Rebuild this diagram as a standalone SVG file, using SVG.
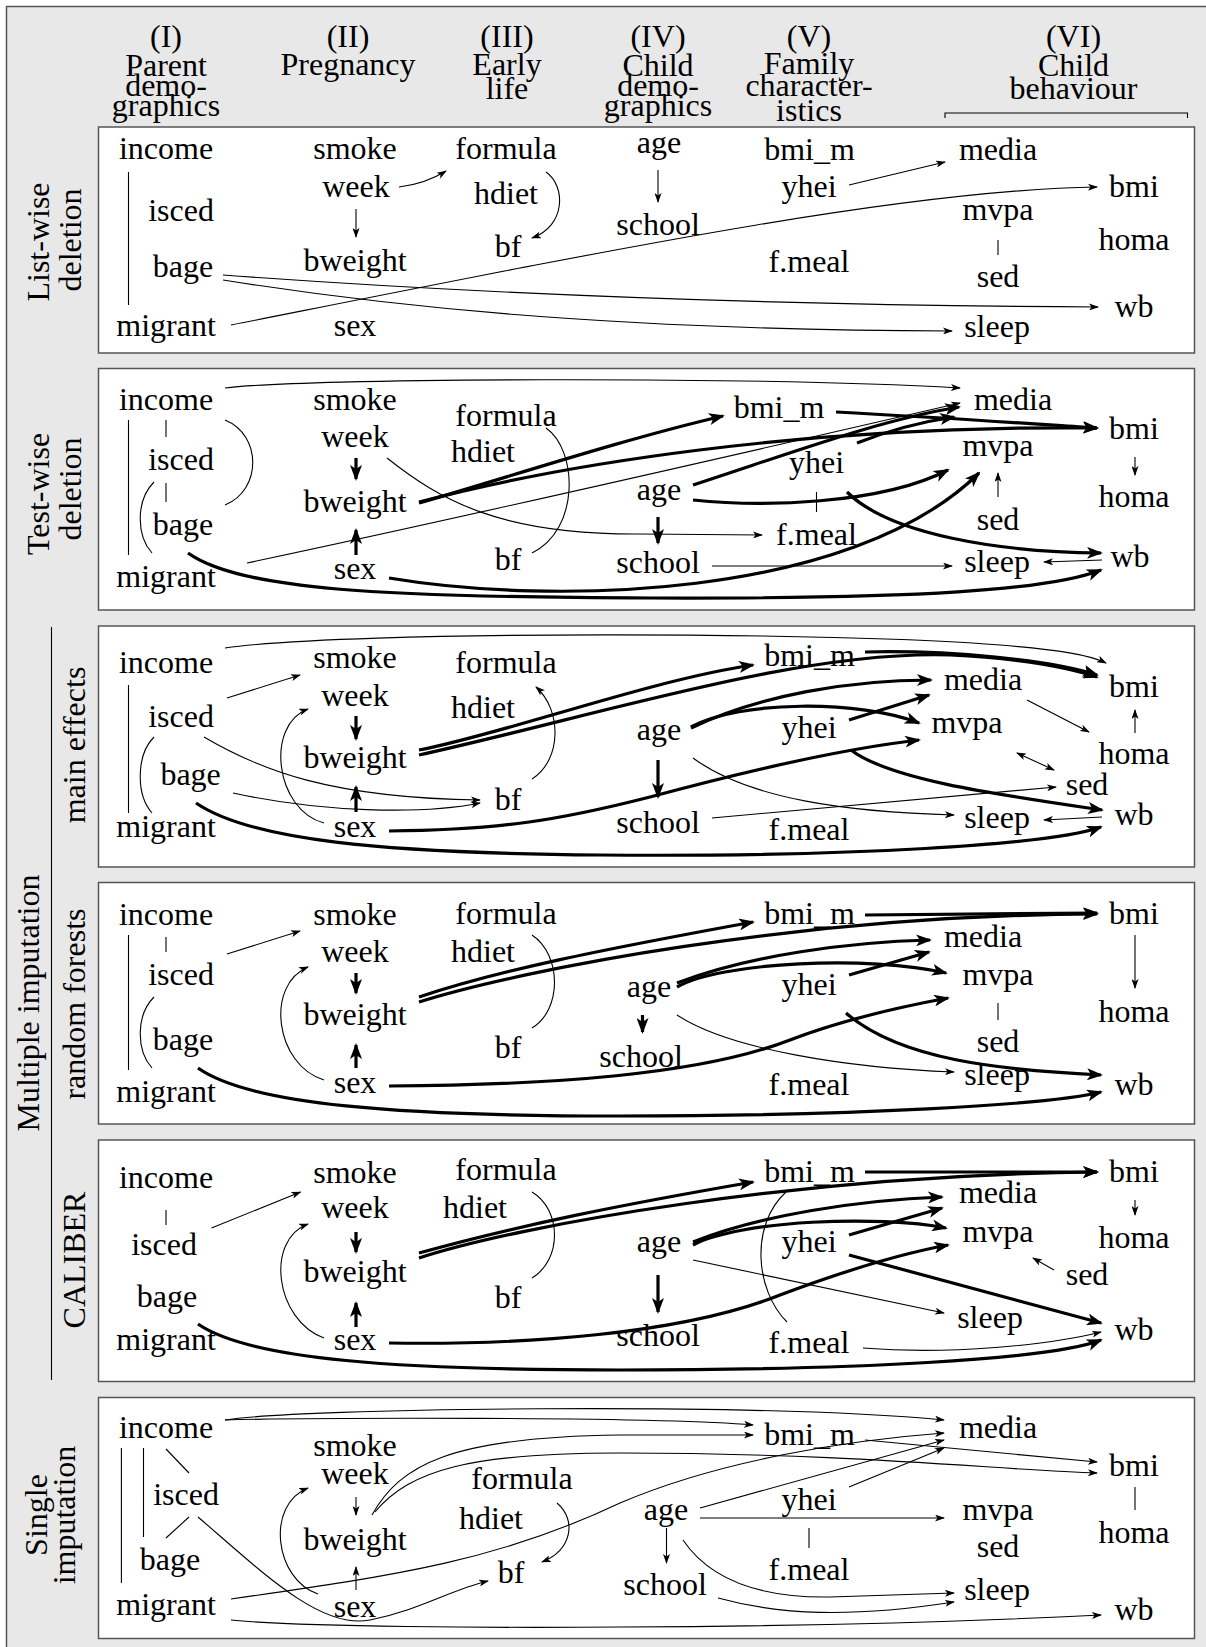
<svg xmlns="http://www.w3.org/2000/svg" width="1206" height="1647" viewBox="0 0 1206 1647" font-family="'Liberation Serif', 'DejaVu Serif', serif">
<style>
text{font-family:"Liberation Serif","DejaVu Serif",serif;font-size:32px;fill:#000;text-anchor:middle}
.panel{fill:#fff;stroke:#555;stroke-width:1.5}
.ln{fill:none;stroke:#000;stroke-width:1.1}
.a{fill:none;stroke:#000;stroke-width:1.1;marker-end:url(#ah)}
.aa{fill:none;stroke:#000;stroke-width:1.1;marker-end:url(#ah);marker-start:url(#ah)}
.b{fill:none;stroke:#000;stroke-width:3.2;marker-end:url(#AH)}
</style>
<defs>
<marker id="ah" viewBox="0 0 10 7" refX="9" refY="3.5" markerWidth="10" markerHeight="7" markerUnits="userSpaceOnUse" orient="auto-start-reverse"><path d="M0,0 L10,3.5 L0,7 L2.5,3.5 z" fill="#000"/></marker>
<marker id="AH" viewBox="0 0 16 12" refX="14" refY="6" markerWidth="16" markerHeight="12" markerUnits="userSpaceOnUse" orient="auto"><path d="M0,0 L16,6 L0,12 L4,6 z" fill="#000"/></marker>
</defs>
<rect x="6.5" y="6.5" width="1210" height="1650" fill="#e8e8e8" stroke="#555" stroke-width="1.5"/>
<g id="panels">
<rect class="panel" x="98.5" y="127" width="1096" height="226"/>
<rect class="panel" x="98.5" y="368.5" width="1096" height="241.5"/>
<rect class="panel" x="98.5" y="626" width="1096" height="241"/>
<rect class="panel" x="98.5" y="882.5" width="1096" height="241.5"/>
<rect class="panel" x="98.5" y="1140" width="1096" height="241.5"/>
<rect class="panel" x="98.5" y="1397.5" width="1096" height="241"/>
</g>
<g id="header">
<text x="166" y="47">(I)</text><text x="166" y="76">Parent</text><text x="166" y="96">demo-</text><text x="166" y="116">graphics</text>
<text x="348" y="47">(II)</text><text x="348" y="75">Pregnancy</text>
<text x="507" y="47">(III)</text><text x="507" y="75">Early</text><text x="507" y="99">life</text>
<text x="658" y="47">(IV)</text><text x="658" y="76">Child</text><text x="658" y="96">demo-</text><text x="658" y="116">graphics</text>
<text x="809" y="47">(V)</text><text x="809" y="74">Family</text><text x="809" y="96">character-</text><text x="809" y="121">istics</text>
<text x="1073.5" y="47">(VI)</text><text x="1073.5" y="76">Child</text><text x="1073.5" y="99">behaviour</text>
<path class="ln" d="M945,118 V113 H1187.5 V118"/>
</g>
<g id="row-labels">
<text transform="translate(49,242) rotate(-90)">List-wise</text>
<text transform="translate(81,240) rotate(-90)">deletion</text>
<text transform="translate(49,494) rotate(-90)">Test-wise</text>
<text transform="translate(81,489) rotate(-90)">deletion</text>
<text transform="translate(39,1003) rotate(-90)">Multiple imputation</text>
<path class="ln" d="M51.5,627 V1380"/>
<text transform="translate(85,745) rotate(-90)">main effects</text>
<text transform="translate(85,1004) rotate(-90)">random forests</text>
<text transform="translate(85,1260) rotate(-90)">CALIBER</text>
<text transform="translate(47,1515) rotate(-90)">Single</text>
<text transform="translate(75,1515) rotate(-90)">imputation</text>
</g>
<g id="panel1-nodes">
<g id="p1-income"><text x="166" y="159">income</text></g>
<g id="p1-isced"><text x="181" y="221">isced</text></g>
<g id="p1-bage"><text x="183" y="277">bage</text></g>
<g id="p1-migrant"><text x="166" y="336">migrant</text></g>
<g id="p1-smoke"><text x="355" y="159">smoke</text></g>
<g id="p1-week"><text x="356" y="197">week</text></g>
<g id="p1-bweight"><text x="355" y="271">bweight</text></g>
<g id="p1-sex"><text x="355" y="336">sex</text></g>
<g id="p1-formula"><text x="506" y="159">formula</text></g>
<g id="p1-hdiet"><text x="506" y="204">hdiet</text></g>
<g id="p1-bf"><text x="508" y="257">bf</text></g>
<g id="p1-age"><text x="659" y="153">age</text></g>
<g id="p1-school"><text x="658" y="235">school</text></g>
<g id="p1-bmi_m"><text x="809.5" y="160">bmi_m</text></g>
<g id="p1-yhei"><text x="809" y="197">yhei</text></g>
<g id="p1-fmeal"><text x="809" y="272">f.meal</text></g>
<g id="p1-media"><text x="998" y="160">media</text></g>
<g id="p1-mvpa"><text x="998" y="220">mvpa</text></g>
<g id="p1-sed"><text x="998" y="287">sed</text></g>
<g id="p1-sleep"><text x="997" y="337">sleep</text></g>
<g id="p1-bmi"><text x="1134" y="197">bmi</text></g>
<g id="p1-homa"><text x="1134" y="250">homa</text></g>
<g id="p1-wb"><text x="1134" y="317">wb</text></g>
</g>
<g id="panel2-nodes">
<g id="p2-income"><text x="166" y="410">income</text></g>
<g id="p2-isced"><text x="181" y="470">isced</text></g>
<g id="p2-bage"><text x="183" y="535">bage</text></g>
<g id="p2-migrant"><text x="166" y="587">migrant</text></g>
<g id="p2-smoke"><text x="355" y="410">smoke</text></g>
<g id="p2-week"><text x="355" y="447">week</text></g>
<g id="p2-bweight"><text x="355" y="512">bweight</text></g>
<g id="p2-sex"><text x="355" y="579">sex</text></g>
<g id="p2-formula"><text x="506" y="426">formula</text></g>
<g id="p2-hdiet"><text x="483" y="462">hdiet</text></g>
<g id="p2-bf"><text x="508" y="570">bf</text></g>
<g id="p2-age"><text x="659" y="500">age</text></g>
<g id="p2-school"><text x="658" y="573">school</text></g>
<g id="p2-bmi_m"><text x="779" y="418">bmi_m</text></g>
<g id="p2-yhei"><text x="816.5" y="473">yhei</text></g>
<g id="p2-fmeal"><text x="816.5" y="545">f.meal</text></g>
<g id="p2-media"><text x="1013" y="410">media</text></g>
<g id="p2-mvpa"><text x="998" y="456">mvpa</text></g>
<g id="p2-sed"><text x="998" y="530">sed</text></g>
<g id="p2-sleep"><text x="997" y="572">sleep</text></g>
<g id="p2-bmi"><text x="1134" y="439">bmi</text></g>
<g id="p2-homa"><text x="1134" y="507">homa</text></g>
<g id="p2-wb"><text x="1130" y="567">wb</text></g>
</g>
<g id="panel3-nodes">
<g id="p3-income"><text x="166" y="673">income</text></g>
<g id="p3-isced"><text x="181" y="727">isced</text></g>
<g id="p3-bage"><text x="190.6" y="785">bage</text></g>
<g id="p3-migrant"><text x="166" y="837">migrant</text></g>
<g id="p3-smoke"><text x="355" y="668">smoke</text></g>
<g id="p3-week"><text x="355" y="706">week</text></g>
<g id="p3-bweight"><text x="355" y="768">bweight</text></g>
<g id="p3-sex"><text x="355" y="837">sex</text></g>
<g id="p3-formula"><text x="506" y="673">formula</text></g>
<g id="p3-hdiet"><text x="483" y="718">hdiet</text></g>
<g id="p3-bf"><text x="508" y="810">bf</text></g>
<g id="p3-age"><text x="659" y="740">age</text></g>
<g id="p3-school"><text x="658" y="833">school</text></g>
<g id="p3-bmi_m"><text x="809.5" y="666">bmi_m</text></g>
<g id="p3-yhei"><text x="809" y="738">yhei</text></g>
<g id="p3-fmeal"><text x="809" y="840">f.meal</text></g>
<g id="p3-media"><text x="983" y="690">media</text></g>
<g id="p3-mvpa"><text x="967" y="733">mvpa</text></g>
<g id="p3-sed"><text x="1087" y="795">sed</text></g>
<g id="p3-sleep"><text x="997" y="828">sleep</text></g>
<g id="p3-bmi"><text x="1134" y="697">bmi</text></g>
<g id="p3-homa"><text x="1134" y="764">homa</text></g>
<g id="p3-wb"><text x="1134" y="825">wb</text></g>
</g>
<g id="panel4-nodes">
<g id="p4-income"><text x="166" y="925">income</text></g>
<g id="p4-isced"><text x="181" y="985">isced</text></g>
<g id="p4-bage"><text x="183" y="1050">bage</text></g>
<g id="p4-migrant"><text x="166" y="1102">migrant</text></g>
<g id="p4-smoke"><text x="355" y="925">smoke</text></g>
<g id="p4-week"><text x="355" y="962">week</text></g>
<g id="p4-bweight"><text x="355" y="1025">bweight</text></g>
<g id="p4-sex"><text x="355" y="1093">sex</text></g>
<g id="p4-formula"><text x="506" y="924">formula</text></g>
<g id="p4-hdiet"><text x="483" y="962">hdiet</text></g>
<g id="p4-bf"><text x="508" y="1058">bf</text></g>
<g id="p4-age"><text x="649" y="997">age</text></g>
<g id="p4-school"><text x="641" y="1067">school</text></g>
<g id="p4-bmi_m"><text x="809.5" y="924">bmi_m</text></g>
<g id="p4-yhei"><text x="809" y="995">yhei</text></g>
<g id="p4-fmeal"><text x="809" y="1095">f.meal</text></g>
<g id="p4-media"><text x="983" y="947">media</text></g>
<g id="p4-mvpa"><text x="998" y="985">mvpa</text></g>
<g id="p4-sed"><text x="998" y="1052">sed</text></g>
<g id="p4-sleep"><text x="997" y="1085">sleep</text></g>
<g id="p4-bmi"><text x="1134" y="924">bmi</text></g>
<g id="p4-homa"><text x="1134" y="1022">homa</text></g>
<g id="p4-wb"><text x="1134" y="1095">wb</text></g>
</g>
<g id="panel5-nodes">
<g id="p5-income"><text x="166" y="1188">income</text></g>
<g id="p5-isced"><text x="164" y="1255">isced</text></g>
<g id="p5-bage"><text x="167" y="1307">bage</text></g>
<g id="p5-migrant"><text x="166" y="1350">migrant</text></g>
<g id="p5-smoke"><text x="355" y="1183">smoke</text></g>
<g id="p5-week"><text x="355" y="1218">week</text></g>
<g id="p5-bweight"><text x="355" y="1282">bweight</text></g>
<g id="p5-sex"><text x="355" y="1350">sex</text></g>
<g id="p5-formula"><text x="506" y="1180">formula</text></g>
<g id="p5-hdiet"><text x="475" y="1218">hdiet</text></g>
<g id="p5-bf"><text x="508" y="1308">bf</text></g>
<g id="p5-age"><text x="659" y="1252">age</text></g>
<g id="p5-school"><text x="658" y="1346">school</text></g>
<g id="p5-bmi_m"><text x="809.5" y="1182">bmi_m</text></g>
<g id="p5-yhei"><text x="809" y="1252">yhei</text></g>
<g id="p5-fmeal"><text x="809" y="1353">f.meal</text></g>
<g id="p5-media"><text x="998" y="1203">media</text></g>
<g id="p5-mvpa"><text x="998" y="1242">mvpa</text></g>
<g id="p5-sed"><text x="1087" y="1285">sed</text></g>
<g id="p5-sleep"><text x="990" y="1328">sleep</text></g>
<g id="p5-bmi"><text x="1134" y="1182">bmi</text></g>
<g id="p5-homa"><text x="1134" y="1248">homa</text></g>
<g id="p5-wb"><text x="1134" y="1340">wb</text></g>
</g>
<g id="panel6-nodes">
<g id="p6-income"><text x="166" y="1438">income</text></g>
<g id="p6-isced"><text x="186" y="1505">isced</text></g>
<g id="p6-bage"><text x="170" y="1570">bage</text></g>
<g id="p6-migrant"><text x="166" y="1615">migrant</text></g>
<g id="p6-smoke"><text x="355" y="1456">smoke</text></g>
<g id="p6-week"><text x="355" y="1484">week</text></g>
<g id="p6-bweight"><text x="355" y="1550">bweight</text></g>
<g id="p6-sex"><text x="355" y="1617">sex</text></g>
<g id="p6-formula"><text x="522" y="1489">formula</text></g>
<g id="p6-hdiet"><text x="491" y="1529">hdiet</text></g>
<g id="p6-bf"><text x="511" y="1583">bf</text></g>
<g id="p6-age"><text x="666" y="1520">age</text></g>
<g id="p6-school"><text x="665" y="1595">school</text></g>
<g id="p6-bmi_m"><text x="809.5" y="1445">bmi_m</text></g>
<g id="p6-yhei"><text x="809" y="1510">yhei</text></g>
<g id="p6-fmeal"><text x="809" y="1580">f.meal</text></g>
<g id="p6-media"><text x="998" y="1438">media</text></g>
<g id="p6-mvpa"><text x="998" y="1520">mvpa</text></g>
<g id="p6-sed"><text x="998" y="1557">sed</text></g>
<g id="p6-sleep"><text x="997" y="1600">sleep</text></g>
<g id="p6-bmi"><text x="1134" y="1476">bmi</text></g>
<g id="p6-homa"><text x="1134" y="1543">homa</text></g>
<g id="p6-wb"><text x="1134" y="1620">wb</text></g>
</g>
<g id="connectors">
<!-- panel 1 -->
<path class="ln" d="M128.5,172 V305"/>
<path class="ln" d="M998,240 V255"/>
<path class="a" d="M399,187 Q425,184 446,171"/>
<path class="a" d="M546,172 C566,186 566,226 532,238"/>
<path class="a" d="M356,209 V237"/>
<path class="a" d="M658,170 V202"/>
<path class="a" d="M849,185 L945,162"/>
<path class="a" d="M231,325 C600,252 900,190 1097,187"/>
<path class="a" d="M223,275 C400,288 700,305 1098,307"/>
<path class="a" d="M223,280 C380,305 600,330 952,331"/>
<!-- panel 2 -->
<path class="ln" d="M128.5,420 V555"/>
<path class="ln" d="M166,420 V437"/>
<path class="ln" d="M166,483 V502"/>
<path class="ln" d="M154,482 C136,500 136,535 152,553"/>
<path class="ln" d="M225,420 C262,435 262,490 225,505"/>
<path class="ln" d="M546,428 C578,450 580,530 532,553"/>
<path class="ln" d="M816.5,492 V512"/>
<path class="a" d="M225,388 C300,378 750,376 960,388"/>
<path class="a" d="M247,563 C450,520 800,440 960,403"/>
<path class="a" d="M387,458 C440,500 500,535 640,534 L762,535"/>
<path class="a" d="M998,497 V473"/>
<path class="a" d="M1135,457 V475"/>
<path class="a" d="M712,566 L952,566"/>
<path class="a" d="M1102,560 L1044,562"/>
<path class="b" d="M356,458 V479"/>
<path class="b" d="M356,555 V530"/>
<path class="b" d="M419,503 C500,480 620,440 723,416"/>
<path class="b" d="M419,502 C560,465 800,425 1097,428"/>
<path class="b" d="M836,412 C950,418 1050,425 1097,428"/>
<path class="b" d="M693,485 C800,450 880,420 959,407"/>
<path class="b" d="M857,443 C890,430 920,422 954,417"/>
<path class="b" d="M693,500 C760,507 880,505 948,470"/>
<path class="b" d="M847,492 C890,535 1000,552 1101,553"/>
<path class="b" d="M658,517 V543"/>
<path class="b" d="M389,578 C550,605 850,600 979,473"/>
<path class="b" d="M188,553 C240,590 380,597 650,598 S1050,590 1101,570"/>
<!-- panel 3 -->
<path class="ln" d="M128.5,685 V813"/>
<path class="ln" d="M154,737 C136,755 136,795 152,813"/>
<path class="a" d="M227,698 L300,675"/>
<path class="a" d="M324,823 C275,810 265,725 308,709"/>
<path class="a" d="M532,779 C562,760 562,710 536,687"/>
<path class="a" d="M204,737 C260,770 330,798 480,800"/>
<path class="a" d="M233,793 C320,812 420,815 480,803"/>
<path class="a" d="M225,648 C350,630 850,632 1000,645 C1060,650 1090,655 1106,663"/>
<path class="a" d="M1027,700 L1089,732"/>
<path class="a" d="M1135,733 V710"/>
<path class="aa" d="M1017,753 L1054,770"/>
<path class="a" d="M693,758 C750,800 850,812 954,815"/>
<path class="a" d="M712,818 L1056,787"/>
<path class="a" d="M1102,817 L1044,820"/>
<path class="b" d="M356,716 V739"/>
<path class="b" d="M356,812 V787"/>
<path class="b" d="M419,750 C500,735 650,680 753,665"/>
<path class="b" d="M419,755 C600,715 800,650 950,655 C1020,658 1070,668 1097,677"/>
<path class="b" d="M865,652 C950,650 1050,660 1097,675"/>
<path class="b" d="M691,728 C760,695 850,680 931,680"/>
<path class="b" d="M691,727 C740,700 860,700 919,723"/>
<path class="b" d="M849,720 L929,695"/>
<path class="b" d="M851,750 C890,780 1000,795 1102,810"/>
<path class="b" d="M658,760 V797"/>
<path class="b" d="M389,831 C500,830 560,820 650,797 C750,770 850,748 919,740"/>
<path class="b" d="M196,803 C250,840 380,853 600,855 C850,857 1050,845 1101,827"/>
<!-- panel 4 -->
<path class="ln" d="M128.5,935 V1070"/>
<path class="ln" d="M166,937 V952"/>
<path class="ln" d="M154,997 C136,1015 136,1050 152,1068"/>
<path class="ln" d="M532,935 C562,955 562,1010 532,1028"/>
<path class="ln" d="M998,1003 V1020"/>
<path class="a" d="M227,954 L300,931"/>
<path class="a" d="M324,1080 C275,1065 265,985 308,967"/>
<path class="a" d="M1135,935 V988"/>
<path class="a" d="M677,1015 C730,1050 850,1068 954,1072"/>
<path class="b" d="M356,973 V993"/>
<path class="b" d="M356,1068 V1045"/>
<path class="b" d="M419,997 C500,970 600,950 753,922"/>
<path class="b" d="M419,1002 C520,970 800,915 1097,914"/>
<path class="b" d="M865,915 L1097,913"/>
<path class="b" d="M677,983 C750,955 850,942 930,940"/>
<path class="b" d="M677,987 C720,962 870,955 946,973"/>
<path class="b" d="M849,975 L929,952"/>
<path class="b" d="M642.5,1015 V1032"/>
<path class="b" d="M389,1086 C550,1085 700,1075 790,1040 C850,1017 910,1005 948,998"/>
<path class="b" d="M846,1013 C900,1060 1000,1070 1101,1075"/>
<path class="b" d="M198,1068 C250,1105 400,1116 620,1116 C850,1116 1050,1105 1101,1092"/>
<!-- panel 5 -->
<path class="ln" d="M166,1210 V1225"/>
<path class="ln" d="M532,1192 C562,1210 562,1260 532,1278"/>
<path class="ln" d="M787,1322 C755,1290 750,1225 786,1192"/>
<path class="a" d="M211.5,1228 L300.5,1192"/>
<path class="a" d="M324,1338 C275,1320 265,1240 308,1224"/>
<path class="a" d="M1054,1270 L1033,1258"/>
<path class="a" d="M1135,1200 V1215"/>
<path class="a" d="M693,1260 L944,1313"/>
<path class="a" d="M863,1348 C950,1355 1050,1345 1101,1332"/>
<path class="b" d="M356,1232 V1252"/>
<path class="b" d="M356,1327 V1303"/>
<path class="b" d="M419,1253 C520,1225 620,1205 753,1182"/>
<path class="b" d="M419,1258 C520,1225 800,1175 1097,1172"/>
<path class="b" d="M865,1172 L1097,1172"/>
<path class="b" d="M693,1242 C760,1215 860,1200 942,1197"/>
<path class="b" d="M693,1245 C740,1220 880,1215 946,1228"/>
<path class="b" d="M849,1235 L942,1208"/>
<path class="b" d="M849,1255 L1101,1323"/>
<path class="b" d="M658,1275 V1312"/>
<path class="b" d="M389,1343 C520,1345 680,1335 780,1295 C860,1265 910,1252 948,1245"/>
<path class="b" d="M198,1324 C250,1360 400,1370 620,1370 C850,1370 1050,1360 1101,1340"/>
<!-- panel 6 -->
<path class="ln" d="M121.4,1448 V1583"/>
<path class="ln" d="M143.5,1448 V1537"/>
<path class="ln" d="M166,1449 L189,1473"/>
<path class="ln" d="M189,1517 L166,1538"/>
<path class="ln" d="M1135,1487 V1510"/>
<path class="ln" d="M809,1528 V1548"/>
<path class="a" d="M356,1497 V1515"/>
<path class="a" d="M356,1590 V1567"/>
<path class="a" d="M557,1503 C577,1520 572,1550 542,1562"/>
<path class="a" d="M318,1594 C275,1580 265,1505 308,1488"/>
<path class="a" d="M198,1517 C260,1570 320,1630 370,1620 C420,1610 450,1590 488,1581"/>
<path class="a" d="M231,1599 C400,1575 500,1560 620,1503 C720,1460 850,1440 944,1433"/>
<path class="a" d="M225,1420 C300,1408 750,1402 944,1420"/>
<path class="a" d="M225,1420 C300,1418 650,1416 753,1425"/>
<path class="a" d="M372,1515 C400,1465 450,1437 620,1435 L753,1435"/>
<path class="a" d="M375,1512 C410,1470 470,1453 620,1453 C850,1453 1000,1470 1097,1473"/>
<path class="a" d="M700,1508 L944,1440"/>
<path class="a" d="M849,1487 L944,1448"/>
<path class="a" d="M865,1440 C950,1448 1050,1458 1097,1462"/>
<path class="a" d="M700,1518 L944,1518"/>
<path class="a" d="M666.5,1528 V1563"/>
<path class="a" d="M683,1540 C710,1580 760,1598 830,1597 L954,1593"/>
<path class="a" d="M718,1598 C780,1615 850,1618 954,1602"/>
<path class="a" d="M231,1620 C300,1627 500,1628 620,1627 C850,1626 1000,1620 1101,1615"/>
</g>
</svg>
